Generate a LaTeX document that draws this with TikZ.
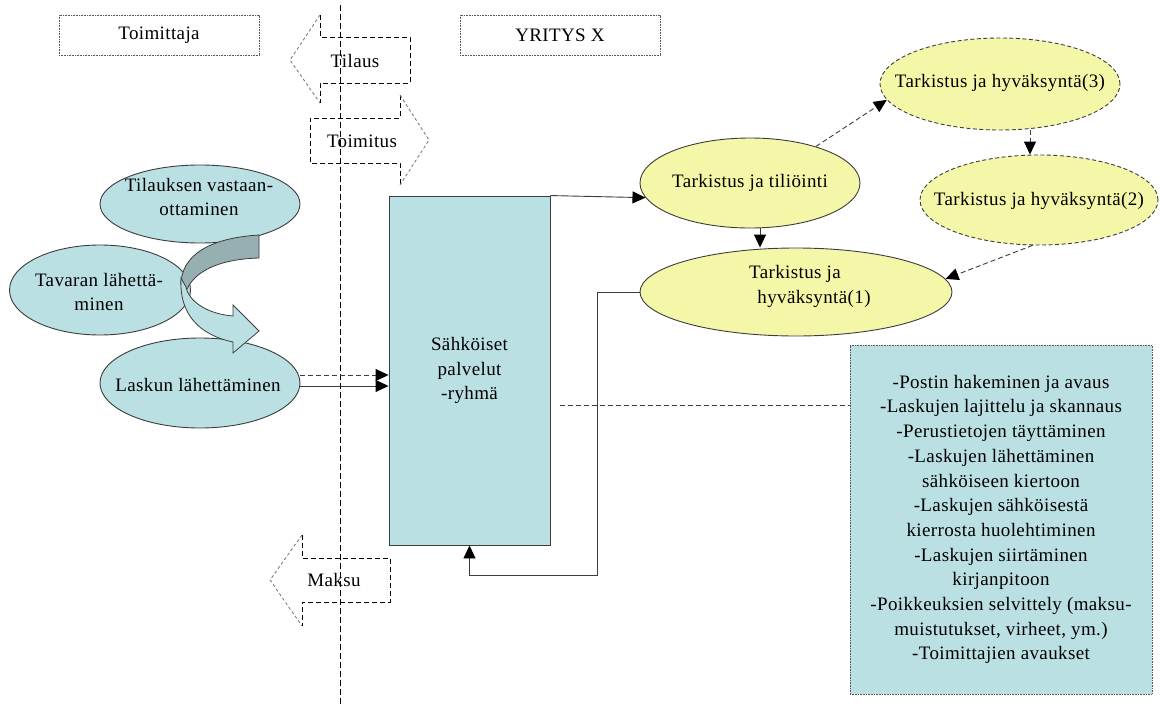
\documentclass[tikz,border=0pt]{standalone}
\usepackage{fontspec}
\setmainfont{Liberation Serif}[LetterSpace=2]
\usetikzlibrary{arrows.meta,shapes.geometric,calc}
\definecolor{tealfill}{RGB}{187,224,227}
\definecolor{tealshade}{RGB}{150,176,178}
\definecolor{yellowfill}{RGB}{244,247,168}
\definecolor{edgegray}{RGB}{60,60,60}
\begin{document}
\begin{tikzpicture}[x=1pt,y=-1pt,
  every node/.style={font=\fontsize{19}{24.7}\selectfont, inner sep=0pt},
  lbl/.style={align=center},
  ell/.style={ellipse, draw=edgegray, line width=0.9pt, inner sep=0pt},
  tealell/.style={ell, fill=tealfill},
  yelell/.style={ell, fill=yellowfill},
  dashell/.style={yelell, dash pattern=on 4pt off 2.5pt},
  dotbox/.style={draw=black!65, line width=0.8pt, dash pattern=on 0.8pt off 0.8pt,
    minimum width=200pt, minimum height=40pt},
  conn/.style={draw=edgegray, line width=0.9pt, -{Triangle[length=13pt,width=12pt,black]}},
  dconn/.style={conn, dash pattern=on 5pt off 3pt},
  bstraight/.style={draw=black, line width=0.8pt, dash pattern=on 5pt off 3pt},
  bslant/.style={draw=black!55, line width=0.8pt, dash pattern=on 3pt off 2.5pt},
  vline/.style={draw=black, line width=0.9pt, dash pattern=on 6pt off 3pt},
]
\useasboundingbox (0,0) rectangle (1160,704);
\fill[white] (0,0) rectangle (1160,704);

% header boxes
\node[dotbox] (supplier) at (159,35) {Toimittaja};
\node[dotbox] (company) at (560,35) {YRITYS X};

% block arrows across the border line
\draw[bslant] (320,15) -- (290,60) -- (320,103);
\draw[bstraight] (320,15) -- (320,37) -- (410,37) -- (410,83) -- (320,83) -- (320,103);
\node (order) at (355,61) {Tilaus};

\draw[bstraight] (400,95) -- (400,118) -- (310,118) -- (310,163) -- (400,163) -- (400,185);
\draw[bslant] (400,95) -- (429,140) -- (400,185);
\node (delivery) at (362,141) {Toimitus};

\draw[bslant] (302,535) -- (270,580) -- (302,626);
\draw[bstraight] (302,535) -- (302,558) -- (390,558) -- (390,602) -- (302,602) -- (302,626);
\node (payment) at (334,580) {Maksu};

% border between supplier and company
\draw[vline] (340,5) -- (340,704);

% supplier side
\node[tealell, minimum width=200pt, minimum height=78pt] (recv) at (200,204) {};
\node[lbl] (recvT) at (199,197) {Tilauksen vastaan-\\ottaminen};
\node[tealell, minimum width=181pt, minimum height=90pt] (ship) at (100,290) {};
\node[lbl] (shipT) at (99,292) {Tavaran lähettä-\\minen};
\node[tealell, minimum width=200pt, minimum height=90pt] (bill) at (200,383) {};
\node[lbl] (billT) at (198,385) {Laskun lähettäminen};

% curved flow arrow
\filldraw[fill=tealshade, draw=edgegray, line width=0.8pt]
  (259,235) -- (259,258) .. controls (225,259) and (197,268) .. (187,289)
  -- (181,285) .. controls (181,255) and (210,238) .. (259,235) -- cycle;
\filldraw[fill=tealfill, draw=edgegray, line width=0.8pt]
  (181,278) .. controls (179,315) and (200,335) .. (233,342)
  -- (233,353) -- (259,331) -- (233,305) -- (233,316)
  .. controls (208,314) and (189,302) .. (186,287) -- cycle;

% service group
\node[draw=edgegray, line width=0.9pt, fill=tealfill, minimum width=161pt, minimum height=349pt,
  lbl] (group) at (469.5,370.5) {Sähköiset\\palvelut\\-ryhmä};

\coordinate (b1) at ($(bill.east)+(0,-8)$);
\coordinate (b2) at ($(bill.east)+(0,3)$);
\draw[dconn] (b1) -- (b1 -| group.west);
\draw[conn] (b2) -- (b2 -| group.west);

% approval flow
\node[yelell, minimum width=220pt, minimum height=90pt] (post) at (750,183) {};
\node (postT) at (750,183) {Tarkistus ja tiliöinti};
\node[dashell, minimum width=240pt, minimum height=92pt] (app3) at (1000,84) {};
\node (app3T) at (1000,83) {Tarkistus ja hyväksyntä(3)};
\node[dashell, minimum width=238pt, minimum height=90pt] (app2) at (1039,200) {};
\node (app2T) at (1039,201) {Tarkistus ja hyväksyntä(2)};
\node[yelell, minimum width=312pt, minimum height=88pt] (app1) at (796,292) {};
\node[lbl] (app1T) at (795,286.5) {Tarkistus ja\\\hspace*{38pt}hyväksyntä(1)};

\draw[conn] (group.north east) -- (post.188);
\coordinate (p1) at ($(post.south)+(10,0)$);
\draw[conn] (p1) -- (p1 |- app1.north);
\draw[dconn] (post.29) -- (app3.188);
\coordinate (p3) at ($(app3.south)+(30,0)$);
\draw[dconn] (p3) -- ($(app2.north)+(-9,0)$);
\draw[dconn] (app2.262) -- (app1.5);
\draw[conn] (app1.west) -| (597,575) -| (group.south);

% task list
\node[draw=black!65, line width=0.8pt, dash pattern=on 0.8pt off 0.8pt, fill=tealfill,
  minimum width=302pt, minimum height=349pt, lbl] (tasks) at (1001,519.5)
  {-Postin hakeminen ja avaus\\
   -Laskujen lajittelu ja skannaus\\
   -Perustietojen täyttäminen\\
   -Laskujen lähettäminen\\
   sähköiseen kiertoon\\
   -Laskujen sähköisestä\\
   kierrosta huolehtiminen\\
   -Laskujen siirtäminen\\
   kirjanpitoon\\
   -Poikkeuksien selvittely (maksu-\\
   muistutukset, virheet, ym.)\\
   -Toimittajien avaukset};
\coordinate (g1) at (560,405);
\draw[draw=edgegray, line width=0.9pt, dash pattern=on 5pt off 3pt] (g1) -- (g1 -| tasks.west);
\end{tikzpicture}
\end{document}
